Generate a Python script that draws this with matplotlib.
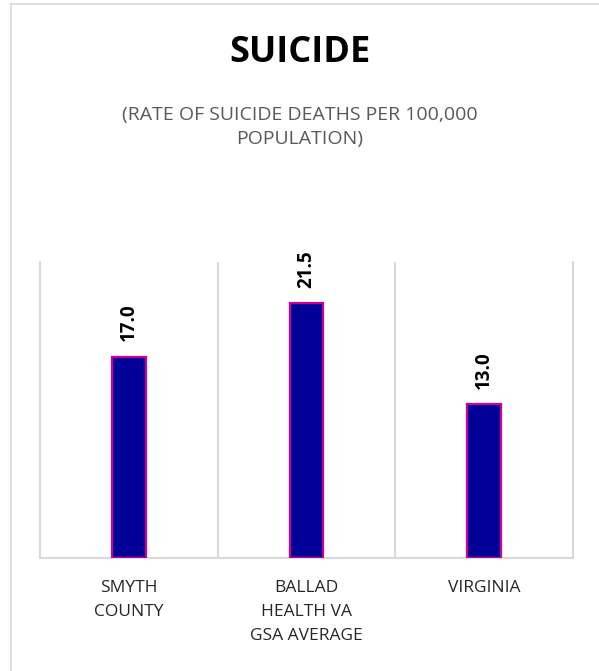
import matplotlib.pyplot as plt
from matplotlib.patches import Rectangle

categories = ["SMYTH\nCOUNTY", "BALLAD\nHEALTH VA\nGSA AVERAGE", "VIRGINIA"]
values = [17.0, 21.5, 13.0]

plt.rcParams['font.family'] = ['Open Sans', 'DejaVu Sans']

fig = plt.figure(figsize=(5.99, 6.71), dpi=100)
# outer chart frame (left and top edge visible)
fig.patches.append(Rectangle((11 / 599, -0.05), 1.2, 1.05 - 4 / 671,
                             transform=fig.transFigure, fill=False,
                             edgecolor="#d9d9d9", linewidth=1.2))

ax = fig.add_axes([40 / 599, 1 - 558 / 671, (573 - 40) / 599, (558 - 262) / 671])

x = range(len(categories))
ax.bar(x, values, width=0.19, color="#000099", edgecolor="#cc0099", linewidth=1.6, zorder=3)

for i, v in enumerate(values):
    ax.annotate(f"{v:.1f}", (i, v), xytext=(0, 11), textcoords="offset points",
                rotation=90, ha="center", va="bottom", fontsize=13.5,
                fontweight="bold", color="black")

ax.set_xlim(-0.5, 2.5)
ax.set_ylim(0, 25)
ax.set_yticks([])
ax.set_xticks(list(x))
ax.set_xticklabels(categories, fontsize=12.5, color="#262626", linespacing=1.67)
ax.tick_params(axis="x", length=0, pad=16)
for xb in [0.5, 1.5]:
    ax.axvline(xb, color="#d9d9d9", linewidth=1.5, zorder=1)
ax.spines["top"].set_visible(False)
for s in ["left", "right", "bottom"]:
    ax.spines[s].set_color("#d9d9d9")
    ax.spines[s].set_linewidth(1.5)

fig.text(0.5, 1 - 52.5 / 671, "SUICIDE", ha="center", va="center",
         fontsize=26, fontweight="bold", color="black")
fig.text(0.5, 1 - 127 / 671, "(RATE OF SUICIDE DEATHS PER 100,000\nPOPULATION)",
         ha="center", va="center", fontsize=14, color="#595959", linespacing=1.45)

fig.savefig("out.png", dpi=100)
